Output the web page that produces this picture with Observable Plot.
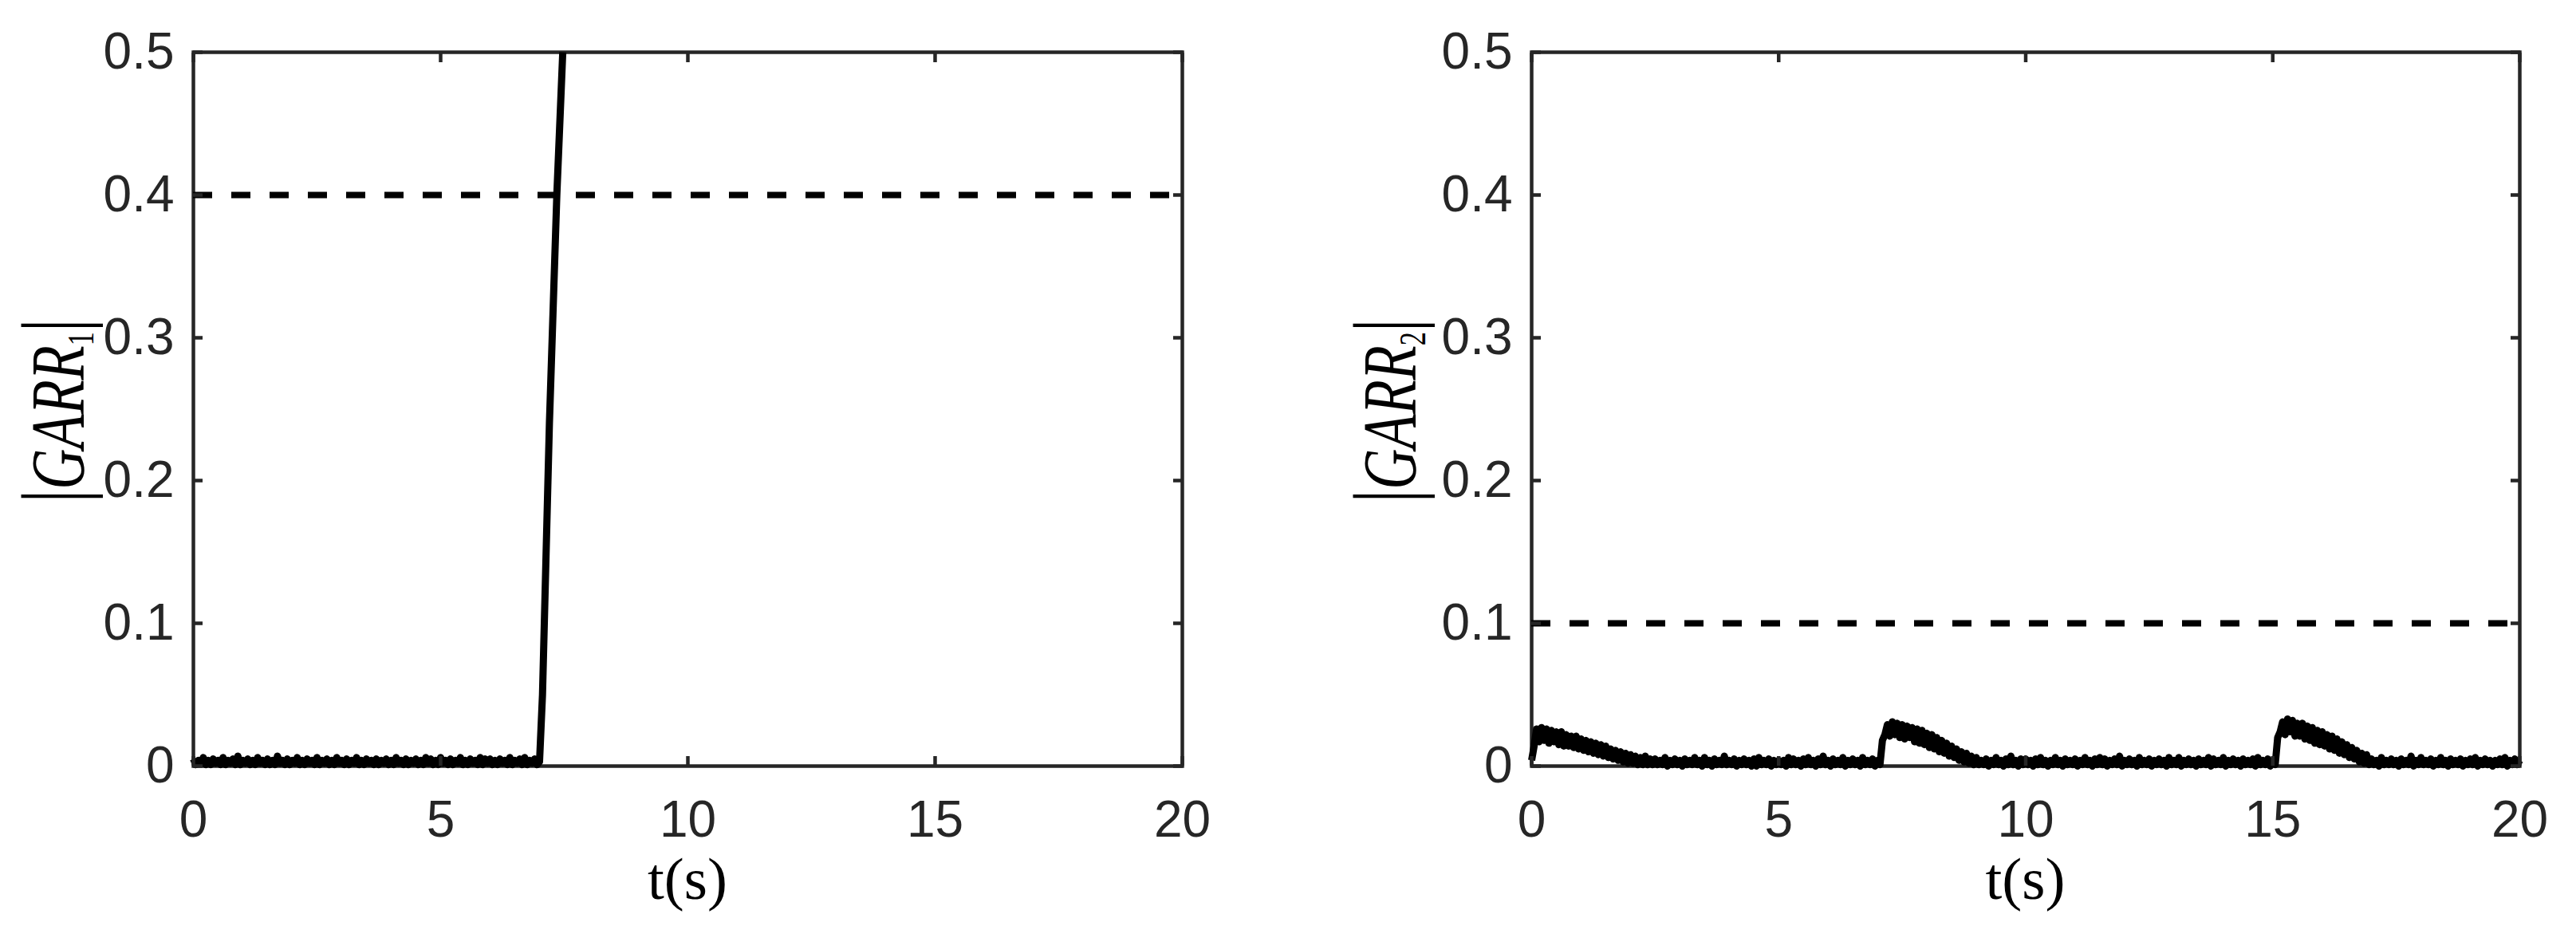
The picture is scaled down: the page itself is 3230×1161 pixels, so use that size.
<!DOCTYPE html>
<html><head><meta charset="utf-8">
<script src="https://cdn.jsdelivr.net/npm/d3@7"></script>
<script src="https://cdn.jsdelivr.net/npm/@observablehq/plot@0.6"></script>
<style>
html,body{margin:0;padding:0;background:#fff;}
#fig{display:flex;width:3230px;height:1161px;}
#fig svg{display:block;flex:none;}
</style></head><body><div id="fig"></div>
<script>
// ---- data ----
const dt = 0.05;                      // sampling step of the |GARR| series (s)
const xTicks = [0, 5, 10, 15, 20];
const yTicks = [0, 0.1, 0.2, 0.3, 0.4, 0.5];
const xLabel = "t(s)";

// |GARR1|: noise from t = 0 to 7.00 s (one row = 0.5 s), then divergence
const garr1Noise = [
  0.005,0.001,0.004,0.002,0.006,0.001,0.004,0.001,0.005,0.002,
  0.004,0.001,0.006,0.001,0.004,0.002,0.005,0.001,0.007,0.001,
  0.004,0.002,0.005,0.001,0.004,0.001,0.006,0.002,0.004,0.001,
  0.005,0.001,0.004,0.001,0.007,0.002,0.004,0.001,0.005,0.001,
  0.004,0.002,0.006,0.001,0.004,0.001,0.005,0.002,0.004,0.001,
  0.006,0.001,0.004,0.002,0.005,0.001,0.004,0.001,0.006,0.002,
  0.004,0.001,0.005,0.001,0.004,0.002,0.006,0.001,0.004,0.001,
  0.005,0.002,0.004,0.001,0.005,0.001,0.004,0.002,0.005,0.001,
  0.004,0.001,0.006,0.002,0.004,0.001,0.005,0.001,0.004,0.002,
  0.005,0.001,0.004,0.001,0.006,0.002,0.005,0.001,0.004,0.001,
  0.006,0.002,0.004,0.001,0.005,0.001,0.004,0.002,0.006,0.001,
  0.004,0.001,0.005,0.002,0.004,0.001,0.006,0.001,0.005,0.002,
  0.005,0.001,0.004,0.001,0.005,0.002,0.004,0.001,0.006,0.001,
  0.004,0.002,0.005,0.001,0.006,0.001,0.004,0.002,0.005,0.001,
  0.003
];
const garr1RiseT = [7.06, 7.2, 7.35, 7.47];
const garr1RiseV = [0.05, 0.24, 0.40, 0.50];
const garr1Threshold = 0.4;

// |GARR2|: t = 0 ... 20 s (one row = 0.5 s)
const garr2 = [
  // 0.0 - 2.45 : start-up transient
  0.004,0.014,0.026,0.017,0.027,0.018,0.026,0.016,0.025,0.017,
  0.024,0.015,0.024,0.014,0.022,0.014,0.021,0.013,0.021,0.012,
  0.019,0.011,0.018,0.010,0.017,0.009,0.016,0.008,0.015,0.007,
  0.014,0.006,0.012,0.005,0.011,0.004,0.010,0.003,0.009,0.002,
  0.008,0.002,0.007,0.001,0.006,0.001,0.007,0.001,0.005,0.001,
  // 2.5 - 6.95
  0.005,0.001,0.004,0.001,0.006,0.000,0.004,0.001,0.005,0.001,
  0.004,0.000,0.005,0.001,0.004,0.001,0.006,0.001,0.004,0.000,
  0.006,0.001,0.004,0.000,0.005,0.001,0.004,0.001,0.007,0.001,
  0.004,0.001,0.005,0.000,0.004,0.001,0.005,0.001,0.004,0.000,
  0.005,0.000,0.006,0.001,0.004,0.001,0.005,0.000,0.004,0.001,
  0.004,0.001,0.004,0.000,0.006,0.001,0.005,0.001,0.004,0.000,
  0.005,0.001,0.006,0.001,0.004,0.000,0.005,0.001,0.007,0.001,
  0.004,0.000,0.005,0.001,0.004,0.001,0.006,0.000,0.004,0.001,
  0.005,0.001,0.004,0.000,0.006,0.001,0.004,0.001,0.005,0.000,
  // 7.0 - 8.95 : second transient
  0.004,0.001,0.018,0.022,0.029,0.021,0.031,0.022,0.030,0.020,
  0.029,0.019,0.028,0.020,0.027,0.017,0.026,0.016,0.025,0.015,
  0.023,0.013,0.022,0.012,0.020,0.010,0.018,0.009,0.016,0.007,
  0.014,0.006,0.012,0.004,0.010,0.003,0.009,0.002,0.007,0.001,
  // 9.0 - 14.95
  0.006,0.001,0.004,0.001,0.005,0.000,0.004,0.001,0.006,0.001,
  0.004,0.000,0.005,0.001,0.007,0.001,0.004,0.000,0.005,0.001,
  0.005,0.001,0.004,0.000,0.005,0.001,0.006,0.001,0.004,0.000,
  0.004,0.001,0.006,0.001,0.004,0.000,0.005,0.001,0.004,0.001,
  0.005,0.000,0.004,0.001,0.006,0.001,0.004,0.000,0.005,0.001,
  0.006,0.001,0.005,0.000,0.004,0.001,0.005,0.001,0.007,0.000,
  0.004,0.001,0.005,0.001,0.004,0.000,0.006,0.001,0.004,0.001,
  0.005,0.000,0.004,0.001,0.005,0.001,0.004,0.000,0.006,0.001,
  0.004,0.001,0.006,0.000,0.004,0.001,0.005,0.001,0.004,0.000,
  0.005,0.001,0.004,0.001,0.006,0.000,0.005,0.001,0.004,0.001,
  0.006,0.000,0.004,0.001,0.005,0.001,0.004,0.000,0.005,0.001,
  0.004,0.001,0.005,0.000,0.006,0.001,0.004,0.001,0.005,0.000,
  // 15.0 - 16.95 : third transient
  0.004,0.001,0.020,0.024,0.031,0.022,0.033,0.024,0.032,0.021,
  0.030,0.021,0.030,0.019,0.028,0.018,0.027,0.016,0.025,0.015,
  0.024,0.014,0.022,0.012,0.021,0.011,0.019,0.009,0.017,0.008,
  0.015,0.006,0.013,0.005,0.011,0.003,0.009,0.002,0.008,0.001,
  // 17.0 - 20.0
  0.005,0.001,0.004,0.000,0.006,0.001,0.004,0.001,0.005,0.001,
  0.004,0.000,0.005,0.001,0.004,0.001,0.007,0.000,0.004,0.001,
  0.006,0.001,0.004,0.001,0.005,0.000,0.004,0.001,0.006,0.001,
  0.004,0.000,0.005,0.001,0.004,0.001,0.005,0.000,0.004,0.001,
  0.005,0.001,0.006,0.000,0.004,0.001,0.005,0.001,0.004,0.000,
  0.004,0.001,0.005,0.001,0.006,0.000,0.004,0.001,0.005,0.001,
  0.004
];
const garr2Threshold = 0.1;

// ---- build tables ----
const garr1Data = garr1Noise.map((v, i) => ({t: +(i * dt).toFixed(3), v}))
  .concat(garr1RiseT.map((t, i) => ({t, v: garr1RiseV[i]})));
const garr2Data = garr2.map((v, i) => ({t: +(i * dt).toFixed(3), v}));

const AXIS = "#262626";
const fmt = d => String(d);

function panel({data, threshold, width, marginLeft, marginRight, sub, ylabelX}) {
  const common = {tickSize: -12, strokeWidth: 4.5, stroke: AXIS, label: null};
  const txt = {fontSize: 64, fontFamily: "Liberation Sans, Arial, sans-serif", fill: AXIS};
  const svgNode = Plot.plot({
    width, height: 1161,
    marginLeft, marginRight, marginTop: 65, marginBottom: 201,
    style: {background: "white", color: AXIS},
    x: {domain: [0, 20], axis: null},
    y: {domain: [0, 0.5], axis: null},
    marks: [
      Plot.frame({stroke: AXIS, strokeWidth: 4.5}),
      Plot.ruleY([threshold], {stroke: "#000", strokeWidth: 8, strokeDasharray: "24,24"}),
      Plot.line(data, {x: "t", y: "v", stroke: "#000", strokeWidth: 9, strokeLinecap: "butt"}),
      Plot.axisX({anchor: "bottom", ticks: xTicks, tickFormat: fmt, tickPadding: 55, ...common, ...txt}),
      Plot.axisX({anchor: "top", ticks: xTicks, tickFormat: () => "", ...common}),
      Plot.axisY({anchor: "left", ticks: yTicks, tickFormat: fmt, tickPadding: 36, ...common, ...txt}),
      Plot.axisY({anchor: "right", ticks: yTicks, tickFormat: () => "", ...common})
    ]
  });
  const svg = d3.select(svgNode);
  const cx = marginLeft + (width - marginLeft - marginRight) / 2;
  svg.append("text")
    .attr("x", cx).attr("y", 1127)
    .attr("text-anchor", "middle")
    .attr("font-family", "Liberation Serif, Times New Roman, serif")
    .attr("font-size", 75).attr("fill", "#000")
    .text(xLabel);
  const yl = svg.append("text")
    .attr("transform", `translate(${ylabelX},515) rotate(-90)`)
    .attr("text-anchor", "middle")
    .attr("font-family", "Liberation Serif, Times New Roman, serif")
    .attr("fill", "#000")
    .attr("textLength", 231).attr("lengthAdjust", "spacingAndGlyphs");
  yl.append("tspan").attr("font-size", 112).text("|");
  yl.append("tspan").attr("font-size", 95).attr("font-style", "italic").text("GARR");
  yl.append("tspan").attr("font-size", 46).attr("dy", 12).text(sub);
  yl.append("tspan").attr("font-size", 112).attr("dy", -12).text("|");
  return svgNode;
}

const fig = document.getElementById("fig");
fig.appendChild(panel({data: garr1Data, threshold: garr1Threshold, width: 1615,
  marginLeft: 242, marginRight: 133, sub: "1", ylabelX: 105}));
fig.appendChild(panel({data: garr2Data, threshold: garr2Threshold, width: 1615,
  marginLeft: 305, marginRight: 71, sub: "2", ylabelX: 160}));
</script>
</body></html>
